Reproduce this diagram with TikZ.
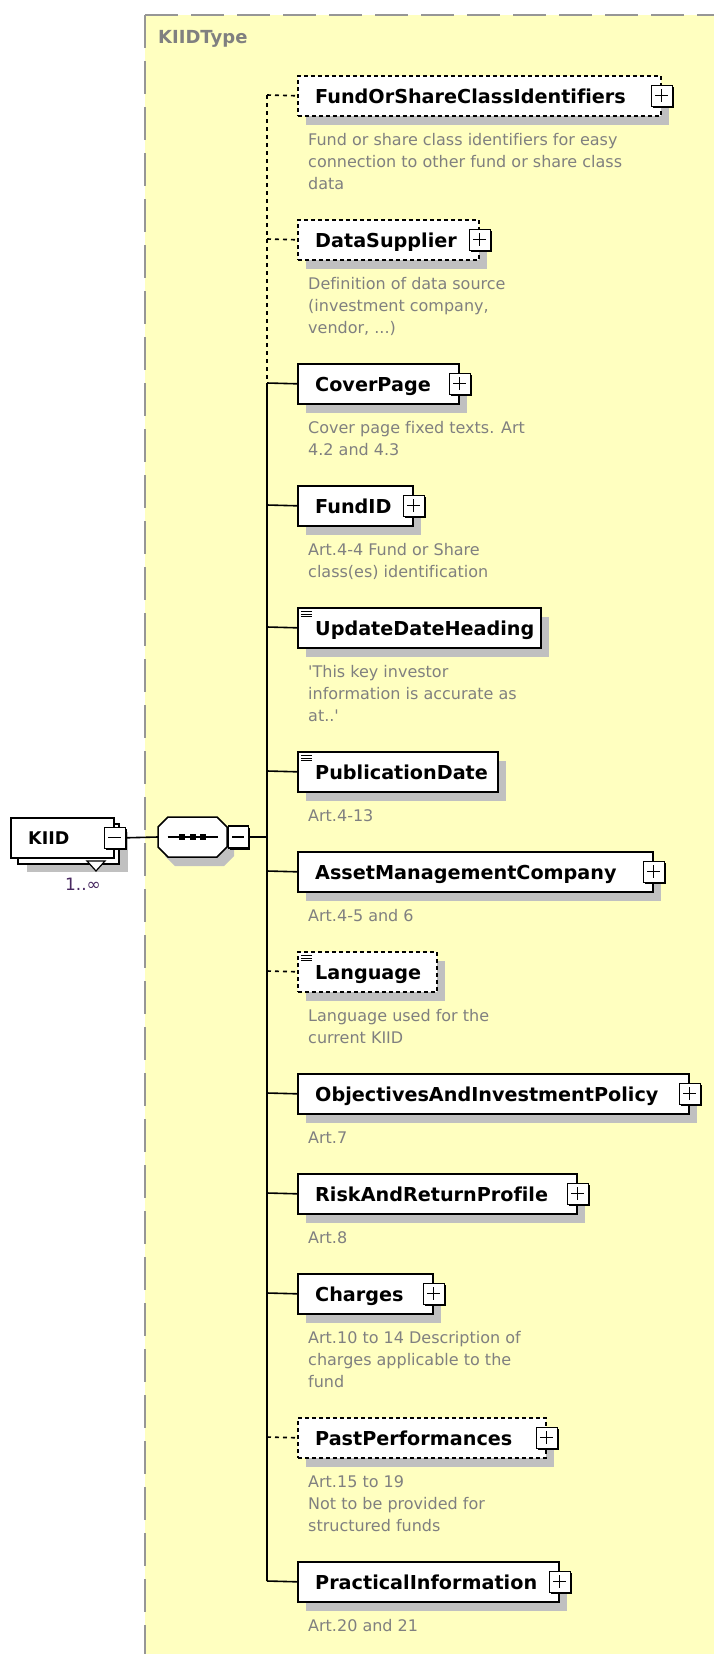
\documentclass[tikz,border=0pt]{standalone}
\usepackage{fontspec}
\setmainfont{DejaVu Sans}[Ligatures={NoCommon}]
\usetikzlibrary{shadows}
\definecolor{ybg}{RGB}{255,255,192}
\definecolor{shgray}{RGB}{192,192,192}
\definecolor{bordergray}{RGB}{150,150,150}
\definecolor{descgray}{RGB}{128,128,128}
\definecolor{occol}{RGB}{72,40,96}
\begin{document}
\begin{tikzpicture}[x=1pt,y=-1pt,
  rbox/.style={draw=black, line width=1.6pt, fill=white, rectangle, inner sep=0pt, minimum height=40pt, anchor=north west},
  elbox/.style={rbox, drop shadow={shadow xshift=8pt, shadow yshift=-9pt, fill=shgray, opacity=1}},
  optbox/.style={elbox, dash pattern=on 4pt off 3pt},
  iconbox/.style={path picture={
     \foreach \dy in {4,6.5,9}{\draw[line width=0.9pt, solid] ([xshift=3pt,yshift=-\dy pt]path picture bounding box.north west) -- ++(11,0);}}},
  pmbox/.style={draw=black, line width=1.2pt, fill=white, rectangle, inner sep=0pt, minimum width=21pt, minimum height=21pt, drop shadow={shadow xshift=1.8pt, shadow yshift=-1.8pt, fill=black, opacity=1}},
  plusbox/.style={pmbox, path picture={
     \draw[line width=1.2pt] ([xshift=4pt]path picture bounding box.west) -- ([xshift=-4pt]path picture bounding box.east);
     \draw[line width=1.2pt] ([yshift=-4pt]path picture bounding box.north) -- ([yshift=4pt]path picture bounding box.south);}},
  minusbox/.style={pmbox, path picture={
     \draw[line width=1.2pt] ([xshift=4pt]path picture bounding box.west) -- ([xshift=-4pt]path picture bounding box.east);}},
  seqanchor/.style={rectangle, minimum width=69pt, minimum height=40pt, inner sep=0pt},
  elname/.style={font=\bfseries\fontsize{19.2}{22}\selectfont, text=black, inner sep=0pt, anchor=base west},
  eldesc/.style={font=\fontsize{16}{22}\selectfont, text=descgray, inner sep=0pt, anchor=base west},
  ttlstyle/.style={font=\bfseries\fontsize{18}{22}\selectfont, text=descgray, inner sep=0pt, anchor=base west},
  conn/.style={line width=1.6pt, draw=black},
  optconn/.style={conn, dash pattern=on 4pt off 4pt},
  bord/.style={draw=bordergray, line width=2pt, dash pattern=on 33pt off 13pt}
]
\clip (0,0) rectangle (714,1654);
\fill[white] (0,0) rectangle (714,1654);
\fill[ybg] (145,15) rectangle (730,1670);
\draw[bord] (145,15) -- (740,15);
\draw[bord] (145,15) -- (145,1680);
\node[ttlstyle] (ttl) at (158,43.5) {KIIDType};

% root element
\node[rbox, minimum width=101pt, drop shadow={shadow xshift=9pt, shadow yshift=-8pt, fill=shgray, opacity=1}] (kiidb) at (17,823) {};
\node[rbox, minimum width=103pt] (kiid) at (10,817) {};
\filldraw[fill=white, draw=black, line width=1.2pt] (87,861) -- (105,861) -- (96,871) -- cycle;
\node[minusbox] (kiidm) at (kiid.east) {};
\node[elname, font=\bfseries\fontsize{17.5}{20}\selectfont] (kiidt) at (28,844) {KIID};
\node[font=\fontsize{17}{20}\selectfont, text=occol, inner sep=0pt] (kiidocc) at (83,884) {1..∞};

% sequence compositor (octagon)
\node[seqanchor] (seq) at (192.5,837) {};
\fill[shgray] ([xshift=7pt,yshift=-9pt]seq.center) ++(-24.5,-20) -- ++(49,0) -- ++(10,10) -- ++(0,20) -- ++(-10,10) -- ++(-49,0) -- ++(-10,-10) -- ++(0,-20) -- cycle;
\filldraw[fill=white, draw=black, line width=1.5pt] (seq.center) ++(-24.5,-20) -- ++(49,0) -- ++(10,10) -- ++(0,20) -- ++(-10,10) -- ++(-49,0) -- ++(-10,-10) -- ++(0,-20) -- cycle;
\draw[line width=1.5pt] ([xshift=-25pt]seq.center) -- ([xshift=25pt]seq.center);
\foreach \dx in {-10.5,0,10.5}{\fill ([xshift=\dx pt]seq.center) +(-3,-3) rectangle +(3,3);}
\node[minusbox, minimum width=20pt, minimum height=22pt] (seqm) at ([xshift=11pt]seq.east) {};
\coordinate (jseq) at (267,837);
\draw[conn] (kiidm.east) -- (seq.west);
\draw[conn] (seqm.east) -- (jseq);

% children boxes
\node[optbox, minimum width=363pt] (b1) at (297,75) {};
\node[optbox, minimum width=181pt] (b2) at (297,219) {};
\node[elbox, minimum width=161pt] (b3) at (297,363) {};
\node[elbox, minimum width=115pt] (b4) at (297,485) {};
\node[elbox, iconbox, minimum width=243pt] (b5) at (297,607) {};
\node[elbox, iconbox, minimum width=200pt] (b6) at (297,751) {};
\node[elbox, minimum width=355pt] (b7) at (297,851) {};
\node[optbox, iconbox, minimum width=139pt] (b8) at (297,951) {};
\node[elbox, minimum width=391pt] (b9) at (297,1073) {};
\node[elbox, minimum width=279pt] (b10) at (297,1173) {};
\node[elbox, minimum width=135pt] (b11) at (297,1273) {};
\node[optbox, minimum width=248pt] (b12) at (297,1417) {};
\node[elbox, minimum width=261pt] (b13) at (297,1561) {};

% junctions on the spine
\foreach \i/\y in {1/95,2/239,3/383,4/505,5/627,6/771,7/871,8/971,9/1093,10/1193,11/1293,12/1437,13/1581}{\coordinate (j\i) at (267,\y);}
\draw[optconn] (j1) -- (j3);
\draw[conn] (j3) -- (j13);
\foreach \i in {1,2,8,12}{\draw[optconn] (j\i) -- (b\i.west);}
\foreach \i in {3,4,5,6,7,9,10,11,13}{\draw[conn] (j\i) -- (b\i.west);}

% expand boxes
\foreach \i in {1,2,3,4,7,9,10,11,12,13}{\node[plusbox] (p\i) at (b\i.east) {};}

% names
\node[elname] (t1) at ([xshift=18pt,yshift=-7.5pt]b1.west) {FundOrShareClassIdentifiers};
\node[elname] (t2) at ([xshift=18pt,yshift=-7.5pt]b2.west) {DataSupplier};
\node[elname] (t3) at ([xshift=18pt,yshift=-7.5pt]b3.west) {CoverPage};
\node[elname] (t4) at ([xshift=18pt,yshift=-7.5pt]b4.west) {FundID};
\node[elname] (t5) at ([xshift=18pt,yshift=-7.5pt]b5.west) {UpdateDateHeading};
\node[elname] (t6) at ([xshift=18pt,yshift=-7.5pt]b6.west) {PublicationDate};
\node[elname] (t7) at ([xshift=18pt,yshift=-7.5pt]b7.west) {AssetManagementCompany};
\node[elname] (t8) at ([xshift=18pt,yshift=-7.5pt]b8.west) {Language};
\node[elname] (t9) at ([xshift=18pt,yshift=-7.5pt]b9.west) {ObjectivesAndInvestmentPolicy};
\node[elname] (t10) at ([xshift=18pt,yshift=-7.5pt]b10.west) {RiskAndReturnProfile};
\node[elname] (t11) at ([xshift=18pt,yshift=-7.5pt]b11.west) {Charges};
\node[elname] (t12) at ([xshift=18pt,yshift=-7.5pt]b12.west) {PastPerformances};
\node[elname] (t13) at ([xshift=18pt,yshift=-7.5pt]b13.west) {PracticalInformation};

% descriptions
\node[eldesc] (d1) at ([xshift=11pt,yshift=-49.5pt]b1.west) {\parbox[t]{400pt}{Fund or share class identifiers for easy\\connection to other fund or share class\\data}};
\node[eldesc] (d2) at ([xshift=11pt,yshift=-49.5pt]b2.west) {\parbox[t]{400pt}{Definition of data source\\(investment company,\\vendor, ...)}};
\node[eldesc] (d3) at ([xshift=11pt,yshift=-49.5pt]b3.west) {\parbox[t]{400pt}{Cover page fixed texts. Art\\4.2 and 4.3}};
\node[eldesc] (d4) at ([xshift=11pt,yshift=-49.5pt]b4.west) {\parbox[t]{400pt}{Art.4-4 Fund or Share\\class(es) identification}};
\node[eldesc] (d5) at ([xshift=11pt,yshift=-49.5pt]b5.west) {\parbox[t]{400pt}{\textquotesingle This key investor\\information is accurate as\\at..\textquotesingle}};
\node[eldesc] (d6) at ([xshift=11pt,yshift=-49.5pt]b6.west) {Art.4-13};
\node[eldesc] (d7) at ([xshift=11pt,yshift=-49.5pt]b7.west) {Art.4-5 and 6};
\node[eldesc] (d8) at ([xshift=11pt,yshift=-49.5pt]b8.west) {\parbox[t]{400pt}{Language used for the\\current KIID}};
\node[eldesc] (d9) at ([xshift=11pt,yshift=-49.5pt]b9.west) {Art.7};
\node[eldesc] (d10) at ([xshift=11pt,yshift=-49.5pt]b10.west) {Art.8};
\node[eldesc] (d11) at ([xshift=11pt,yshift=-49.5pt]b11.west) {\parbox[t]{400pt}{Art.10 to 14 Description of\\charges applicable to the\\fund}};
\node[eldesc] (d12) at ([xshift=11pt,yshift=-49.5pt]b12.west) {\parbox[t]{400pt}{Art.15 to 19\\Not to be provided for\\structured funds}};
\node[eldesc] (d13) at ([xshift=11pt,yshift=-49.5pt]b13.west) {Art.20 and 21};
\end{tikzpicture}
\end{document}
